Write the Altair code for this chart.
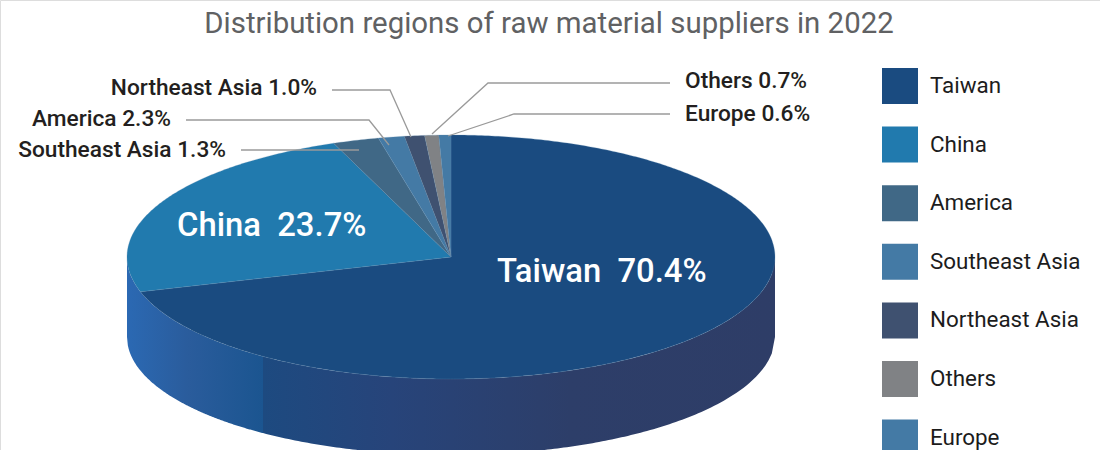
import math
import altair as alt
import pandas as pd

# Supplier shares, clockwise from twelve o'clock
regions = ["Taiwan", "China", "America", "Southeast Asia", "Northeast Asia", "Others", "Europe"]
shares = [70.4, 23.7, 2.3, 1.3, 1.0, 0.7, 0.6]
colors = ["#1a4b80", "#217aae", "#406886", "#447aa5", "#3f5170", "#808285", "#447aa5"]

# Tilted-disc geometry, in canvas pixels; the base ellipse is a little flatter than the top
W, H = 1100, 450
CX, CY, RX, RY, DEPTH, BASE_RY = 451, 257, 324, 122, 80, 118


def rim(turn):
    a = 2 * math.pi * turn
    return CX + RX * math.sin(a), CY - RY * math.cos(a)


# Top face: each slice is a closed outline through the centre
rows = []
start = 0.0
for name, share in zip(regions, shares):
    steps = max(4, int(share * 6))
    outline = [(CX, CY)] + [rim(start + share / 100 * i / steps) for i in range(steps + 1)] + [(CX, CY)]
    for seq, (x, y) in enumerate(outline):
        rows.append({"region": name, "seq": seq, "x": x, "y": y})
    start += share / 100
faces = pd.DataFrame(rows)


def wall_rows(x_from, x_to, n=160):
    out = []
    for i in range(n + 1):
        x = x_from + (x_to - x_from) * i / n
        t = min(1.0, abs(x - CX) / RX)
        arc = math.sqrt(1 - t * t)
        out.append({"x": x, "y": CY + RY * arc, "y2": CY + DEPTH + BASE_RY * arc})
    return pd.DataFrame(out)


x_scale = alt.Scale(domain=[0, W], range=[0, W], nice=False, zero=False)
y_scale = alt.Scale(domain=[0, H], range=[0, H], nice=False, zero=False)
X = alt.X("x:Q", scale=x_scale, axis=None)
Y = alt.Y("y:Q", scale=y_scale, axis=None)


def wall(df, stops):
    return alt.Chart(df).mark_area(
        color=alt.Gradient(gradient="linear", x1=0, y1=0, x2=1, y2=0,
                           stops=[alt.GradientStop(offset=o, color=c) for o, c in stops]),
        strokeWidth=0,
    ).encode(x=X, y=Y, y2="y2:Q")


SEAM = 263
wall_left = wall(wall_rows(CX - RX, SEAM), [(0, "#2b69b3"), (0.45, "#2a5c9c"), (1, "#1b5590")])
wall_right = wall(wall_rows(SEAM, CX + RX), [(0, "#1d4a80"), (0.25, "#27447a"), (0.6, "#2d3e69"), (1, "#2e3d67")])

top = alt.Chart(faces).mark_line(strokeWidth=0.5, stroke="#5f8db0", strokeOpacity=0.5, interpolate="linear").encode(
    x=X,
    y=Y,
    order="seq:Q",
    detail="region:N",
    fill=alt.Fill(
        "region:N",
        sort=regions,
        scale=alt.Scale(domain=regions, range=colors),
        legend=alt.Legend(
            title=None,
            orient="none",
            legendX=882,
            legendY=68,
            symbolType="square",
            symbolSize=1296,
            symbolStrokeWidth=0,
            symbolOpacity=1,
            labelFont="Roboto",
            labelFontSize=22.4,
            labelColor="#1c1c1c",
            labelOffset=12,
            rowPadding=22.6,
            columns=1,
        ),
    ),
)

# Leader lines from each small slice to its caption
leader_x = [[332, 390, 411], [186, 369, 389], [241, 359], [670, 488, 432], [670, 514, 448]]
leader_y = [[90, 90, 137], [120, 120, 145], [150, 150], [83, 83, 134], [114, 114, 136]]
leaders = pd.DataFrame(
    [
        {"line": i, "seq": j, "x": x, "y": y}
        for i, (xs, ys) in enumerate(zip(leader_x, leader_y))
        for j, (x, y) in enumerate(zip(xs, ys))
    ]
)
leader_marks = alt.Chart(leaders).mark_line(color="#9a9a9a", strokeWidth=1.3).encode(
    x=X, y=Y, order="seq:Q", detail="line:N"
)

share_of = dict(zip(regions, shares))
caption_names = ["Northeast Asia", "America", "Southeast Asia", "Others", "Europe"]
caption_x = [317, 171, 226, 685, 685]
caption_y = [88, 119, 150, 81, 114]
caption_align = ["right", "right", "right", "left", "left"]
captions = pd.DataFrame(
    {
        "label": [f"{n} {share_of[n]:.1f}%" for n in caption_names],
        "x": caption_x,
        "y": caption_y,
        "align": caption_align,
    }
)


def text_layer(df, **style):
    return alt.Chart(df).mark_text(font="Roboto", baseline="middle", **style).encode(x=X, y=Y, text="label:N")


caption_left = text_layer(captions[captions["align"] == "left"], align="left", fontSize=22.7,
                          fontWeight=500, color="#231f20")
caption_right = text_layer(captions[captions["align"] == "right"], align="right", fontSize=22.7,
                           fontWeight=500, color="#231f20")

big_names = ["Taiwan", "China"]
big = pd.DataFrame(
    {
        "label": [f"{n}\u00a0\u00a0{share_of[n]:.1f}%" for n in big_names],
        "x": [497, 177],
        "y": [272, 226],
    }
)
big_labels = text_layer(big, align="left", fontSize=32.8, fontWeight=500, color="#ffffff")

heading = pd.DataFrame(
    {"label": ["Distribution regions of raw material suppliers in 2022"], "x": [549], "y": [24]}
)
heading_mark = text_layer(heading, align="center", fontSize=29.4, color="#606163")

chart = (
    alt.layer(wall_left, wall_right, top, leader_marks, caption_left, caption_right, big_labels, heading_mark)
    .properties(width=W, height=H, padding=0, autosize=alt.AutoSizeParams(type="none"))
    .configure_view(stroke=None)
    .configure(background="#ffffff")
)

chart.save("out.html", embed_options={"renderer": "svg", "actions": False})
